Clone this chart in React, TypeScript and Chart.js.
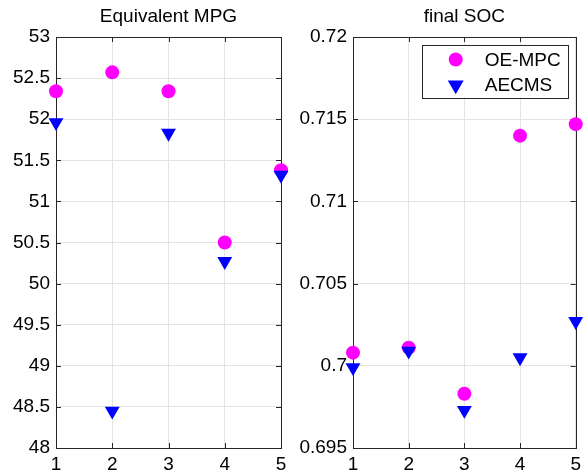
import React, { useEffect, useRef } from 'react';
import { Chart, registerables } from 'chart.js';

Chart.register(...registerables);

// ---- data ----
const runs = [1, 2, 3, 4, 5];
const seriesNames = ['OE-MPC', 'AECMS'];
const mpgOeMpc = [52.34, 52.57, 52.34, 50.5, 51.38];
const mpgAecms = [51.96, 48.45, 51.83, 50.27, 51.32];
const socOeMpc = [0.7008, 0.7011, 0.6983, 0.714, 0.7147];
const socAecms = [0.6999, 0.7009, 0.6973, 0.7005, 0.7027];
const xTicks = [1, 2, 3, 4, 5];
const mpgTicks = [48, 48.5, 49, 49.5, 50, 50.5, 51, 51.5, 52, 52.5, 53];
const socTicks = [0.695, 0.7, 0.705, 0.71, 0.715, 0.72];
const titles = ['Equivalent MPG', 'final SOC'];

const FONT = "'Liberation Sans', Arial, sans-serif";
const GRID = '#e4e4e4';
const AXIS = '#262626';
const MAGENTA = '#ff00ff';
const BLUE = '#0000ff';
const CIRCLE_R = 7;
const TRI_R = 8.6;

function drawMarker(ctx: CanvasRenderingContext2D, style: string, x: number, y: number, r: number, color: string) {
  ctx.save();
  ctx.fillStyle = color;
  ctx.beginPath();
  if (style === 'circle') {
    ctx.arc(x, y, r, 0, Math.PI * 2);
  } else {
    let rad = Math.PI;
    for (let i = 0; i < 3; i++) {
      const px = x + Math.sin(rad) * r;
      const py = y - Math.cos(rad) * r;
      if (i === 0) ctx.moveTo(px, py);
      else ctx.lineTo(px, py);
      rad += (2 * Math.PI) / 3;
    }
    ctx.closePath();
  }
  ctx.fill();
  ctx.restore();
}

const framePlugin = {
  id: 'frame',
  beforeDatasetsDraw(chart: any) {
    const { ctx, chartArea: a } = chart;
    const xs = chart.scales.x;
    const ys = chart.scales.y;
    ctx.save();
    ctx.strokeStyle = AXIS;
    ctx.lineWidth = 1;
    ctx.beginPath();
    const L = 5;
    for (const t of xs.ticks) {
      const px = Math.round(xs.getPixelForValue(t.value)) + 0.5;
      ctx.moveTo(px, a.bottom);
      ctx.lineTo(px, a.bottom - L);
      ctx.moveTo(px, a.top);
      ctx.lineTo(px, a.top + L);
    }
    for (const t of ys.ticks) {
      const py = Math.round(ys.getPixelForValue(t.value)) + 0.5;
      ctx.moveTo(a.left, py);
      ctx.lineTo(a.left + L, py);
      ctx.moveTo(a.right, py);
      ctx.lineTo(a.right - L, py);
    }
    ctx.stroke();
    ctx.strokeRect(Math.round(a.left) + 0.5, Math.round(a.top) + 0.5, Math.round(a.right - a.left), Math.round(a.bottom - a.top));
    ctx.restore();
  },
  afterDraw(chart: any, _args: any, opts: any) {
    const { ctx, chartArea: a } = chart;
    ctx.save();
    ctx.fillStyle = '#000';
    ctx.font = `19px ${FONT}`;
    ctx.textAlign = 'center';
    ctx.textBaseline = 'alphabetic';
    ctx.fillText(opts.title, (a.left + a.right) / 2, 22);
    if (opts.legend) {
      const w = 146;
      const h = 53;
      const bx = a.right - 8 - w;
      const by = a.top + 7.5;
      ctx.fillStyle = '#fff';
      ctx.fillRect(bx, by, w, h);
      ctx.strokeStyle = AXIS;
      ctx.lineWidth = 1;
      ctx.strokeRect(Math.round(bx) + 0.5, Math.round(by) + 0.5, w, h);
      ctx.textAlign = 'left';
      ctx.textBaseline = 'middle';
      ctx.font = `19px ${FONT}`;
      chart.data.datasets.forEach((ds: any, i: number) => {
        const cy = by + 15 + i * 25.5;
        drawMarker(ctx, ds.pointStyle, bx + 34, cy, ds.pointStyle === 'circle' ? CIRCLE_R : TRI_R + 0.6, ds.backgroundColor);
        ctx.fillStyle = '#000';
        ctx.fillText(ds.label, bx + 63, cy + 1);
      });
    }
    ctx.restore();
  },
};

function makeConfig(a: number[], b: number[], yTicks: number[], yWidth: number, padRight: number, title: string, legend: boolean): any {
  return {
    type: 'scatter',
    data: {
      datasets: [
        {
          label: seriesNames[0],
          data: runs.map((x, i) => ({ x, y: a[i] })),
          pointStyle: 'circle',
          pointRadius: CIRCLE_R,
          backgroundColor: MAGENTA,
          borderColor: MAGENTA,
          borderWidth: 0,
          order: 2,
          clip: false,
        },
        {
          label: seriesNames[1],
          data: runs.map((x, i) => ({ x, y: b[i] })),
          pointStyle: 'triangle',
          rotation: 180,
          pointRadius: TRI_R,
          backgroundColor: BLUE,
          borderColor: BLUE,
          borderWidth: 0,
          order: 1,
          clip: false,
        },
      ],
    },
    options: {
      animation: false,
      responsive: false,
      events: [],
      layout: { padding: { top: 37, right: padRight, left: 0, bottom: 0 } },
      plugins: {
        legend: { display: false },
        tooltip: { enabled: false },
        frame: { title, legend },
      },
      scales: {
        x: {
          type: 'linear',
          min: xTicks[0],
          max: xTicks[xTicks.length - 1],
          afterBuildTicks: (axis: any) => {
            axis.ticks = xTicks.map((v) => ({ value: v }));
          },
          afterFit: (axis: any) => {
            axis.height = 23;
          },
          grid: { color: GRID, drawTicks: false, lineWidth: 1 },
          border: { display: false },
          ticks: {
            padding: 5,
            color: '#000',
            maxRotation: 0,
            autoSkip: false,
            font: { family: FONT, size: 19 },
            callback: (v: any) => String(v),
          },
        },
        y: {
          type: 'linear',
          min: yTicks[0],
          max: yTicks[yTicks.length - 1],
          afterBuildTicks: (axis: any) => {
            axis.ticks = yTicks.map((v) => ({ value: v }));
          },
          afterFit: (axis: any) => {
            axis.width = yWidth;
          },
          grid: { color: GRID, drawTicks: false, lineWidth: 1 },
          border: { display: false },
          ticks: {
            padding: 6,
            color: '#000',
            autoSkip: false,
            font: { family: FONT, size: 19 },
            callback: (v: any) => String(v),
          },
        },
      },
    },
    plugins: [framePlugin],
  };
}

export default function App() {
  const leftRef = useRef<HTMLCanvasElement>(null);
  const rightRef = useRef<HTMLCanvasElement>(null);

  useEffect(() => {
    const c1 = new Chart(leftRef.current!, makeConfig(mpgOeMpc, mpgAecms, mpgTicks, 56, 12, titles[0], false));
    const c2 = new Chart(rightRef.current!, makeConfig(socOeMpc, socAecms, socTicks, 60, 9, titles[1], true));
    return () => {
      c1.destroy();
      c2.destroy();
    };
  }, []);

  return (
    <div style={{ position: 'fixed', left: 0, top: 0, width: 586, height: 471, background: '#fff' }}>
      <canvas ref={leftRef} width={293} height={471} style={{ position: 'absolute', left: 0, top: 0, width: 293, height: 471 }} />
      <canvas ref={rightRef} width={293} height={471} style={{ position: 'absolute', left: 293, top: 0, width: 293, height: 471 }} />
    </div>
  );
}
